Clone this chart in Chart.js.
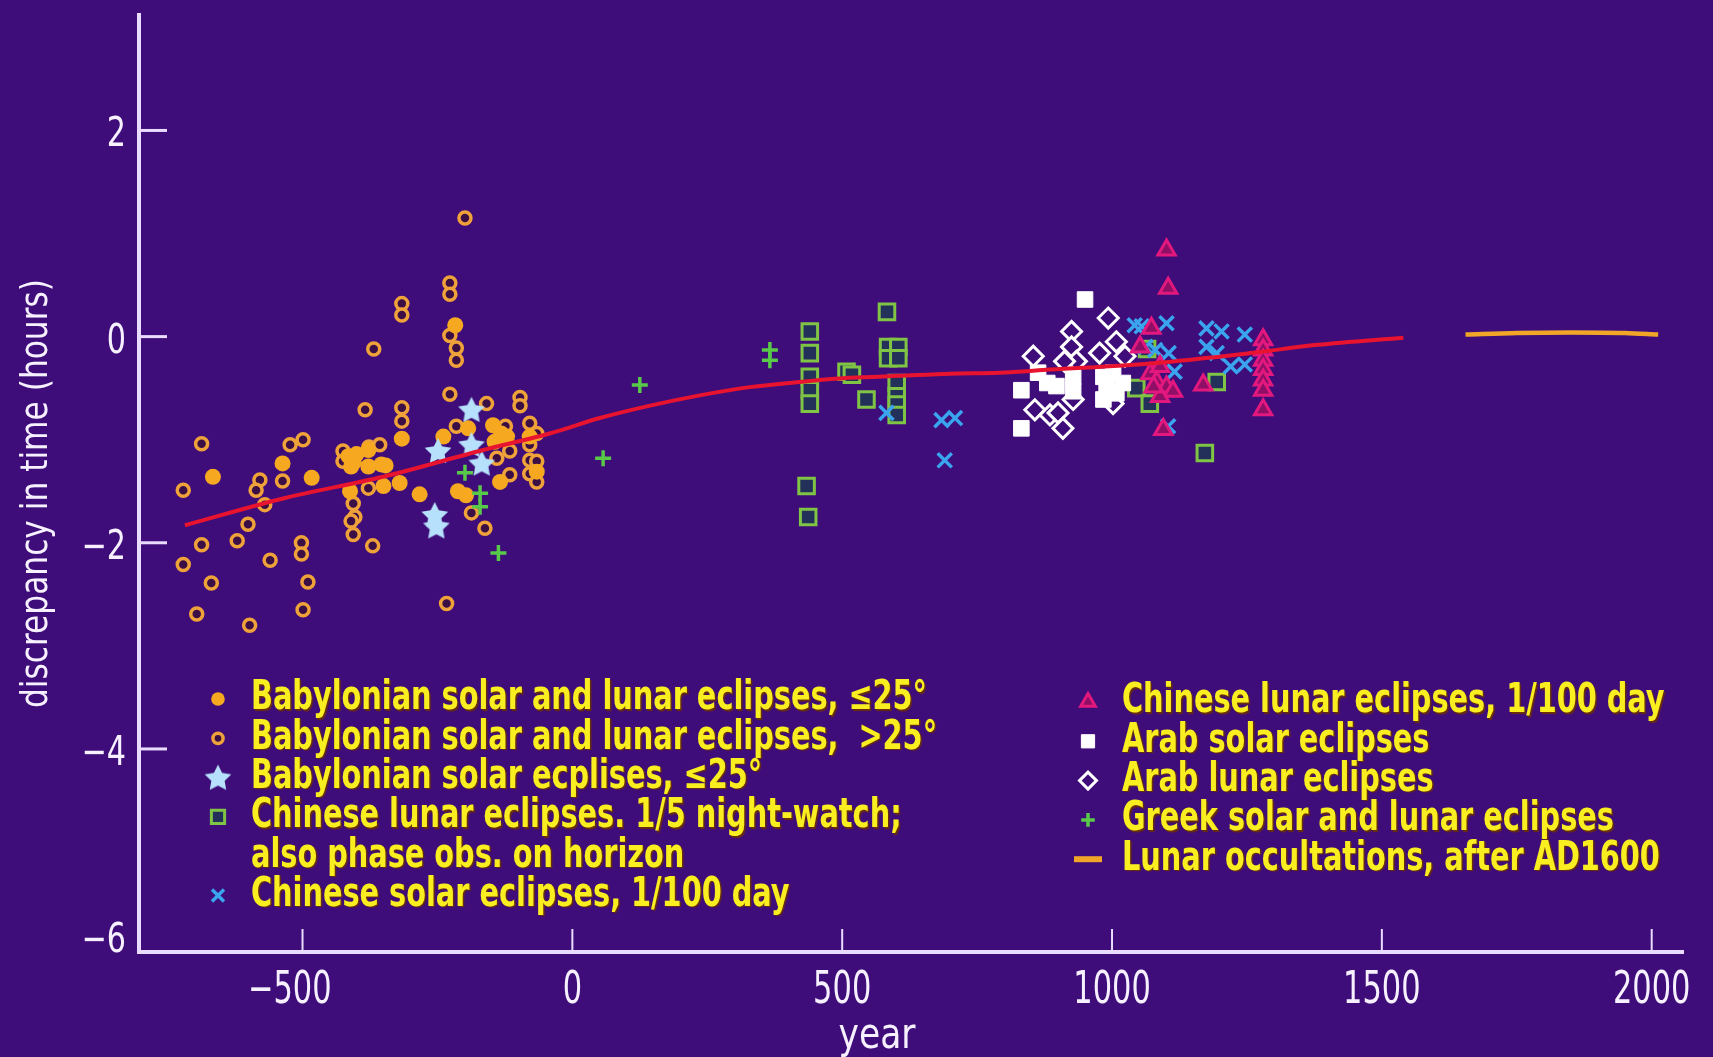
<!DOCTYPE html>
<html>
<head>
<meta charset="utf-8">
<title>Clock-time discrepancy from historical eclipses</title>
<script src="https://cdn.jsdelivr.net/npm/chart.js"></script>
<style>
  html, body { margin: 0; padding: 0; background: #3e0d79; }
  #wrap { position: relative; width: 1713px; height: 1057px; }
</style>
</head>
<body>
<div id="wrap"><canvas id="chart"></canvas></div>
<script>
// year / discrepancy in hours
const babLowYears = [-666, -537, -483, -415, -405, -410, -400, -378, -378, -354, -346, -412, -350, -320, -283, -316, -217, -239, -193, -212, -197, -147, -132, -144, -121, -134, -79, -66];
const babLowHours = [-1.36, -1.23, -1.37, -1.16, -1.22, -1.26, -1.14, -1.10, -1.26, -1.24, -1.25, -1.50, -1.45, -1.42, -1.53, -0.99, 0.11, -0.97, -0.89, -1.50, -1.54, -0.86, -0.94, -1.02, -0.97, -1.41, -0.97, -1.31];

const babHighYears = [-227, -227, -316, -316, -199, -227, -215, -215, -368, -227, -384, -316, -316, -159, -97, -97,
  -687, -721, -687, -721, -669, -696, -621, -601, -598, -579, -586, -570, -560, -537, -523, -499, -502, -502, -490, -499,
  -425, -425, -406, -403, -410, -406, -370, -377, -357, -378, -233, -187, -162, -215,
  -140, -116, -116, -79, -66, -79, -79, -66, -79, -66, -124];
const babHighHours = [0.52, 0.41, 0.32, 0.21, 1.15, 0.01, -0.11, -0.23, -0.12, -0.56, -0.71, -0.69, -0.82, -0.65, -0.59, -0.67,
  -1.04, -1.49, -2.02, -2.21, -2.39, -2.69, -1.98, -1.82, -2.80, -1.39, -1.49, -1.63, -2.17, -1.40, -1.05, -1.00, -2.00, -2.11, -2.38, -2.65,
  -1.11, -1.21, -1.62, -1.75, -1.79, -1.92, -2.03, -1.07, -1.05, -1.47, -2.59, -1.71, -1.86, -0.87,
  -1.18, -1.11, -1.34, -0.84, -0.94, -1.05, -1.20, -1.21, -1.33, -1.41, -0.87];

const babSolarYears = [-187, -249, -187, -168, -255, -252];
const babSolarHours = [-0.71, -1.11, -1.05, -1.23, -1.73, -1.84];

const chLunarWatchYears = [440, 440, 440, 440, 440, 434, 437, 583, 585, 604, 585, 604, 601, 601, 601, 601, 508, 518, 545, 1045, 1070, 1194, 1172, 1065];
const chLunarWatchHours = [0.05, -0.16, -0.39, -0.52, -0.65, -1.45, -1.75, 0.24, -0.10, -0.10, -0.21, -0.21, -0.45, -0.58, -0.66, -0.76, -0.34, -0.37, -0.61, -0.50, -0.65, -0.44, -1.13, -0.12];

const chSolarYears = [582, 684, 709, 690, 1042, 1055, 1101, 1062, 1080, 1105, 1116, 1104, 1175, 1203, 1246, 1175, 1194, 1220, 1246];
const chSolarHours = [-0.74, -0.81, -0.79, -1.20, 0.11, 0.10, 0.13, -0.10, -0.13, -0.16, -0.34, -0.87, 0.08, 0.05, 0.02, -0.10, -0.16, -0.29, -0.27];

const chLunarDayYears = [1101, 1104, 1073, 1052, 1071, 1089, 1083, 1101, 1113, 1089, 1077, 1095, 1169, 1280, 1280, 1280, 1280, 1280, 1280, 1280];
const chLunarDayHours = [0.84, 0.47, 0.08, -0.10, -0.36, -0.29, -0.44, -0.49, -0.53, -0.58, -0.49, -0.90, -0.47, -0.03, -0.13, -0.23, -0.32, -0.42, -0.52, -0.71];

const arabSolarYears = [950, 832, 832, 863, 897, 928, 928, 984, 990, 1008, 1002, 984, 880, 1020];
const arabSolarHours = [0.36, -0.52, -0.89, -0.35, -0.48, -0.39, -0.53, -0.39, -0.48, -0.55, -0.35, -0.61, -0.45, -0.45];

const arabLunarYears = [993, 925, 925, 1008, 977, 854, 934, 912, 1024, 857, 885, 900, 909, 928, 1002];
const arabLunarHours = [0.18, 0.05, -0.10, -0.05, -0.16, -0.19, -0.24, -0.24, -0.19, -0.71, -0.76, -0.74, -0.89, -0.61, -0.65];

const greekYears = [-199, -171, -171, -137, 57, 125, 366, 366];
const greekHours = [-1.32, -1.52, -1.65, -2.10, -1.18, -0.47, -0.13, -0.23];

const occultYears = [1655, 1750, 1850, 1950, 2012];
const occultHours = [0.02, 0.035, 0.04, 0.035, 0.02];

const fitYears = [-718, -536, -351, -165, -42, 51, 144, 236, 329, 421, 514, 607, 700, 792, 885, 1071, 1256, 1380, 1540];
const fitHours = [-1.83, -1.57, -1.36, -1.10, -0.94, -0.79, -0.67, -0.57, -0.49, -0.44, -0.40, -0.38, -0.36, -0.35, -0.32, -0.26, -0.16, -0.08, -0.01];

const xTicks = [-500, 0, 500, 1000, 1500, 2000];
const yTicks = [2, 0, -2, -4, -6];
const xRange = [-803, 2058];
const yRange = [-5.97, 3.12];

const CONDENSED = "'Liberation Sans Narrow', 'DejaVu Sans Condensed', 'Liberation Sans', sans-serif";
const axisColor = '#e9dcff';
const labelColor = '#f6f0ff';
const legendColor = '#f9ee1f';

const pts = (xs, ys) => xs.map((x, i) => ({ x, y: ys[i] }));

const makeStar = (r, color) => {
  const c = document.createElement('canvas');
  const s = Math.ceil(r * 2 + 2);
  c.width = c.height = s;
  const g = c.getContext('2d');
  g.translate(s / 2, s / 2 + 1);
  g.beginPath();
  for (let i = 0; i < 10; i++) {
    const rr = i % 2 ? r * 0.5 : r;
    const a = -Math.PI / 2 + i * Math.PI / 5;
    g.lineTo(Math.cos(a) * rr, Math.sin(a) * rr);
  }
  g.closePath();
  g.fillStyle = color;
  g.fill();
  return c;
};

const marks = (label, data, style, radius, fill, stroke, width, order) => ({
  label, data, order,
  showLine: false,
  pointStyle: style,
  pointRadius: radius,
  pointBackgroundColor: fill,
  pointBorderColor: stroke,
  pointBorderWidth: width
});

const babLow = marks('Babylonian solar and lunar eclipses, \u226425\u00b0', pts(babLowYears, babLowHours), 'circle', 8, '#f6a920', '#f6a920', 0, 8);
const babHigh = marks('Babylonian solar and lunar eclipses,  >25\u00b0', pts(babHighYears, babHighHours), 'circle', 6, '#3b0f46', '#efa23a', 3.5, 9);
const babSolar = marks('Babylonian solar ecplises, \u226425\u00b0', pts(babSolarYears, babSolarHours), makeStar(14, '#b6e0fb'), 13, '#b6e0fb', '#b6e0fb', 0, 7);
const chLunarWatch = marks('Chinese lunar eclipses. 1/5 night-watch;\nalso phase obs. on horizon', pts(chLunarWatchYears, chLunarWatchHours), 'rect', 11, '#22305a', '#80c446', 3, 6);
const chSolar = marks('Chinese solar eclipses, 1/100 day', pts(chSolarYears, chSolarHours), 'crossRot', 10, '#3aa4ef', '#3aa4ef', 3.5, 4);
const chLunarDay = marks('Chinese lunar eclipses, 1/100 day', pts(chLunarDayYears, chLunarDayHours), 'triangle', 10, '#8e0f65', '#e2187f', 3, 3);
const arabSolar = marks('Arab solar eclipses', pts(arabSolarYears, arabSolarHours), 'rect', 11, '#ffffff', '#ffffff', 1, 5);
const arabLunar = marks('Arab lunar eclipses', pts(arabLunarYears, arabLunarHours), 'rectRot', 10, '#3e0d79', '#ffffff', 3, 5);
const greek = marks('Greek solar and lunar eclipses', pts(greekYears, greekHours), 'cross', 8, '#58c948', '#58c948', 3.5, 2);

const occult = {
  label: 'Lunar occultations, after AD1600',
  data: pts(occultYears, occultHours),
  showLine: true, pointRadius: 0, borderColor: '#f2a628', borderWidth: 4.5,
  cubicInterpolationMode: 'monotone', order: 1
};
const fit = {
  label: 'fit',
  data: pts(fitYears, fitHours),
  showLine: true, pointRadius: 0, borderColor: '#e8132e', borderWidth: 4,
  cubicInterpolationMode: 'monotone', order: 0
};

const legendLeft = [babLow, babHigh, babSolar, chLunarWatch, chSolar];
const legendRight = [chLunarDay, arabSolar, arabLunar, greek, occult];

const fmt = v => {
  const r = Math.round(v);
  return r < 0 ? '\u2212' + (-r) : String(r);
};
const isBottomTick = v => v < yRange[0] + 0.1;

// draw text squeezed horizontally to mimic the condensed face
const squeeze = (ctx, text, x, y, sx) => {
  ctx.save();
  ctx.translate(x, y);
  ctx.scale(sx, 1);
  ctx.fillText(text, 0, 0);
  ctx.restore();
};
const fitText = (ctx, text, x, y, width) => squeeze(ctx, text, x, y, width / ctx.measureText(text).width);

// inward tick marks on both axes
const innerTicks = {
  id: 'innerTicks',
  beforeDatasetsDraw(chart) {
    const { ctx, chartArea: a, scales: { x, y } } = chart;
    ctx.save();
    ctx.strokeStyle = axisColor;
    ctx.lineWidth = 2;
    x.ticks.forEach(t => {
      const px = x.getPixelForValue(t.value);
      ctx.beginPath(); ctx.moveTo(px, a.bottom); ctx.lineTo(px, a.bottom - 23); ctx.stroke();
    });
    ctx.lineWidth = 3;
    y.ticks.forEach(t => {
      if (isBottomTick(t.value)) return;
      const py = y.getPixelForValue(t.value);
      ctx.beginPath(); ctx.moveTo(a.left, py); ctx.lineTo(a.left + 28, py); ctx.stroke();
    });
    ctx.restore();
  }
};

// tick labels and axis titles in the condensed style of the figure
const axisText = {
  id: 'axisText',
  afterDraw(chart) {
    const { ctx, chartArea: a, scales: { x, y } } = chart;
    ctx.save();
    ctx.fillStyle = labelColor;
    ctx.textBaseline = 'alphabetic';

    const sxX = 0.77;
    ctx.font = '44px ' + CONDENSED;
    ctx.textAlign = 'right';
    x.ticks.forEach(t => {
      // digits centred on the tick, minus sign hanging to the left
      const half = ctx.measureText(String(Math.abs(t.value))).width * sxX / 2;
      squeeze(ctx, fmt(t.value), x.getPixelForValue(t.value) + half, a.bottom + 51, sxX);
    });

    ctx.font = '40px ' + CONDENSED;
    y.ticks.forEach(t => {
      const base = isBottomTick(t.value) ? a.bottom : y.getPixelForValue(t.value) + 16;
      squeeze(ctx, fmt(t.value), a.left - 13, base, 0.84);
    });

    ctx.font = '42px ' + CONDENSED;
    ctx.textAlign = 'center';
    fitText(ctx, 'year', (a.left + a.right) / 2 - 34, a.bottom + 96, 77);

    ctx.font = '38px ' + CONDENSED;
    ctx.translate(a.left - 102, (a.top + a.bottom) / 2 + 10);
    ctx.rotate(-Math.PI / 2);
    ctx.textBaseline = 'middle';
    fitText(ctx, 'discrepancy in time (hours)', 0, 0, 429);
    ctx.restore();
  }
};

const cornerLegend = {
  id: 'cornerLegend',
  afterDraw(chart) {
    const { ctx, chartArea: a } = chart;
    const drawPoint = Chart.helpers && Chart.helpers.drawPoint;
    ctx.save();
    ctx.font = 'bold 40px ' + CONDENSED;
    const sx = 676 / ctx.measureText(babLow.label).width;

    const item = (ds, mx, tx, y) => {
      ctx.save();
      if (ds.showLine) {
        ctx.strokeStyle = ds.borderColor;
        ctx.lineWidth = 6;
        ctx.beginPath(); ctx.moveTo(mx - 14, y); ctx.lineTo(mx + 14, y); ctx.stroke();
      } else if (drawPoint) {
        ctx.fillStyle = ds.pointBackgroundColor;
        ctx.strokeStyle = ds.pointBorderColor;
        ctx.lineWidth = ds.pointBorderWidth;
        drawPoint(ctx, { pointStyle: ds.pointStyle, radius: ds.pointRadius * 0.85, rotation: 0, borderWidth: ds.pointBorderWidth }, mx, y);
      }
      ctx.restore();
      ctx.fillStyle = legendColor;
      ctx.shadowColor = 'rgba(110, 50, 0, 0.9)';
      ctx.shadowOffsetX = 1.5;
      ctx.shadowOffsetY = 1.5;
      ctx.shadowBlur = 1;
      ctx.textAlign = 'left';
      ctx.textBaseline = 'middle';
      const lines = ds.label.split('\n');
      lines.forEach((ln, i) => squeeze(ctx, ln, tx, y + i * 39.3, sx));
      ctx.shadowColor = 'transparent';
      return lines.length;
    };

    let row = 0;
    legendLeft.forEach(ds => {
      row += item(ds, a.left + 79, a.left + 112, 699 + row * 39.3);
    });
    legendRight.forEach((ds, i) => {
      item(ds, a.left + 949, a.left + 983, 702 + i * 39.3);
    });
    ctx.restore();
  }
};

new Chart(document.getElementById('chart'), {
  type: 'scatter',
  data: {
    datasets: [fit, occult, greek, chLunarDay, chSolar, arabSolar, arabLunar, chLunarWatch, babSolar, babLow, babHigh]
  },
  options: {
    responsive: true,
    maintainAspectRatio: false,
    animation: false,
    devicePixelRatio: 1,
    events: [],
    layout: { padding: { top: 15, right: 30, left: 0, bottom: 0 } },
    plugins: { legend: { display: false }, tooltip: { enabled: false } },
    scales: {
      x: {
        type: 'linear',
        min: xRange[0],
        max: xRange[1],
        afterBuildTicks: s => { s.ticks = xTicks.map(v => ({ value: v })); },
        afterFit: s => { s.height = 105; s.paddingLeft = 0; s.paddingRight = 0; },
        grid: { display: false },
        border: { display: true, color: axisColor, width: 4 },
        ticks: { display: false }
      },
      y: {
        type: 'linear',
        min: yRange[0],
        max: yRange[1],
        afterBuildTicks: s => { s.ticks = yTicks.map(v => ({ value: Math.max(v, yRange[0]) })); },
        afterFit: s => { s.width = 139; s.paddingTop = 0; s.paddingBottom = 0; },
        grid: { display: false },
        border: { display: true, color: axisColor, width: 4 },
        ticks: { display: false }
      }
    }
  },
  plugins: [innerTicks, axisText, cornerLegend]
});
</script>
</body>
</html>
